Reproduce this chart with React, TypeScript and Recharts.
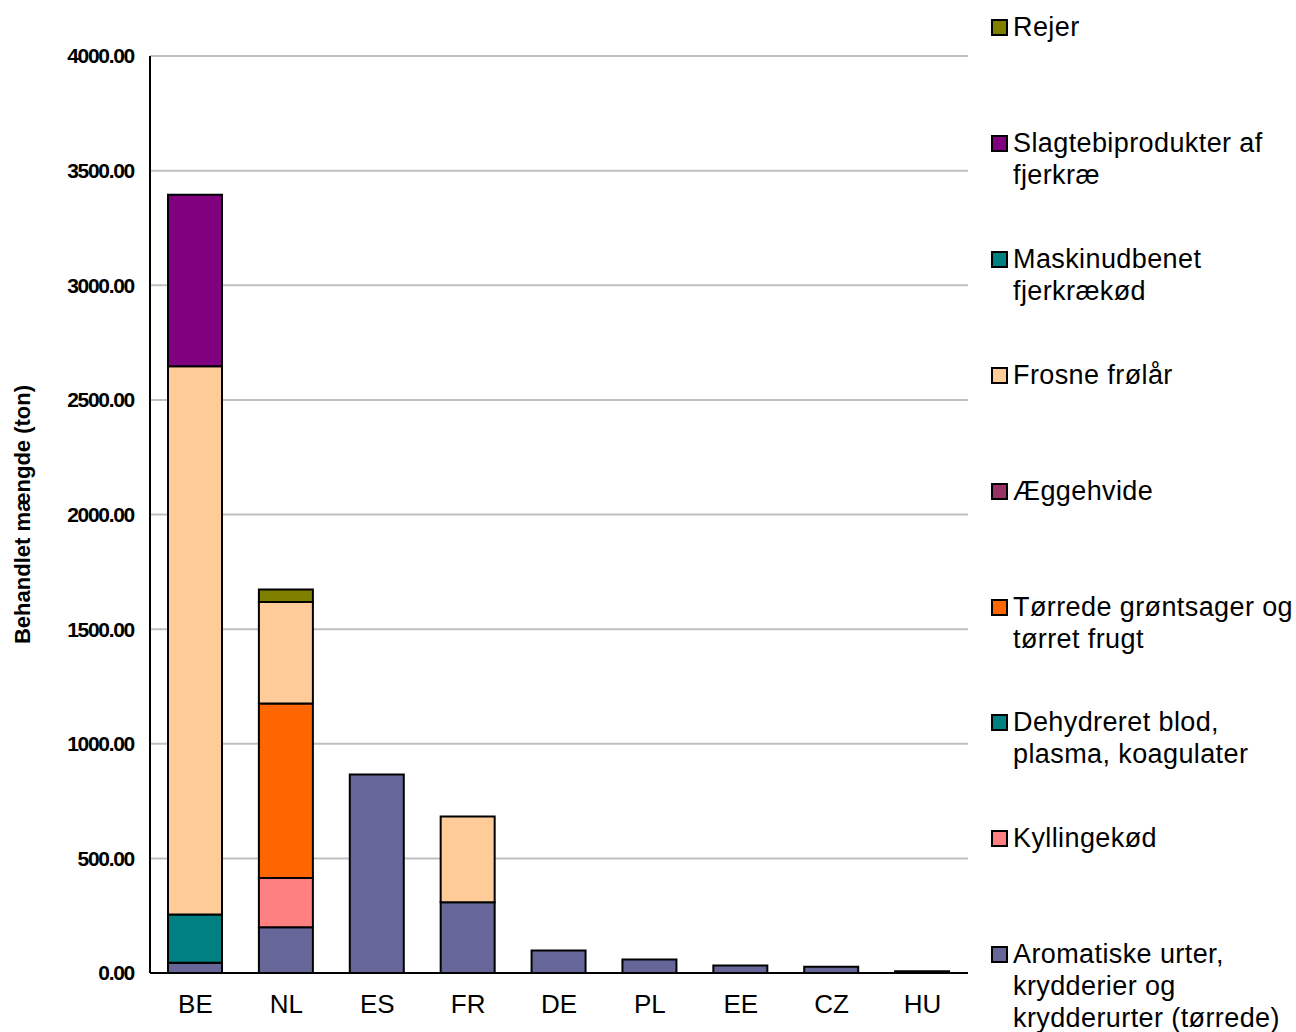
import React from 'react';
import { BarChart, Bar, XAxis, YAxis, CartesianGrid } from 'recharts';

const countries = ['BE', 'NL', 'ES', 'FR', 'DE', 'PL', 'EE', 'CZ', 'HU'];

// stack order, bottom to top
const aromatiske = [45, 200, 866, 309, 98, 59, 33, 27, 8];
const kyllingekod = [0, 214, 0, 0, 0, 0, 0, 0, 0];
const dehydreret = [210, 0, 0, 0, 0, 0, 0, 0, 0];
const torrede = [0, 762, 0, 0, 0, 0, 0, 0, 0];
const aeggehvide = [0, 0, 0, 0, 0, 0, 0, 0, 0];
const frosne = [2392, 442, 0, 374, 0, 0, 0, 0, 0];
const maskinudbenet = [0, 0, 0, 0, 0, 0, 0, 0, 0];
const slagtebi = [748, 0, 0, 0, 0, 0, 0, 0, 0];
const rejer = [0, 55, 0, 0, 0, 0, 0, 0, 0];

const yTicks = [0, 500, 1000, 1500, 2000, 2500, 3000, 3500, 4000];

const series = [
  { key: 'aromatiske', name: 'Aromatiske urter,\nkrydderier og\nkrydderurter (tørrede)', color: '#666699', values: aromatiske },
  { key: 'kyllingekod', name: 'Kyllingekød', color: '#FF8080', values: kyllingekod },
  { key: 'dehydreret', name: 'Dehydreret blod,\nplasma, koagulater', color: '#008080', values: dehydreret },
  { key: 'torrede', name: 'Tørrede grøntsager og\ntørret frugt', color: '#FF6600', values: torrede },
  { key: 'aeggehvide', name: 'Æggehvide', color: '#993366', values: aeggehvide },
  { key: 'frosne', name: 'Frosne frølår', color: '#FFCC99', values: frosne },
  { key: 'maskinudbenet', name: 'Maskinudbenet\nfjerkrækød', color: '#008080', values: maskinudbenet },
  { key: 'slagtebi', name: 'Slagtebiprodukter af\nfjerkræ', color: '#800080', values: slagtebi },
  { key: 'rejer', name: 'Rejer', color: '#808000', values: rejer },
];

const data = countries.map((c, i) => {
  const row: Record<string, string | number> = { country: c };
  series.forEach(s => { row[s.key] = s.values[i]; });
  return row;
});

const font = '"Liberation Sans", Arial, sans-serif';

export default function App() {
  const legendItems = [...series].reverse();
  return (
    <div style={{ position: 'absolute', left: 0, top: 0, width: 1296, height: 1032, background: '#fff', fontFamily: font }}>
      <BarChart
        width={1296}
        height={1032}
        data={data}
        margin={{ top: 56, right: 328, left: 0, bottom: 0 }}
        barSize={54}
      >
        <CartesianGrid vertical={false} stroke="#C0C0C0" strokeWidth={2} />
        <XAxis
          dataKey="country"
          height={59}
          axisLine={{ stroke: '#000', strokeWidth: 2 }}
          tickLine={false}
          tickSize={0}
          tickMargin={22}
          tick={{ fontSize: 26, fill: '#000', fontFamily: font }}
        />
        <YAxis
          width={150}
          domain={[0, 4000]}
          ticks={yTicks}
          interval={0}
          axisLine={{ stroke: '#000', strokeWidth: 2 }}
          tickLine={false}
          tickSize={6}
          tickMargin={10}
          tickFormatter={(v: number) => v.toFixed(2)}
          tick={{ fontSize: 21, fill: '#000', fontWeight: 'bold', letterSpacing: -1.3, fontFamily: font }}
          label={{
            value: 'Behandlet mængde (ton)',
            angle: -90,
            position: 'insideLeft',
            offset: 0,
            dx: 22,
            style: { fontSize: 22, fontWeight: 'bold', fill: '#000', fontFamily: font, textAnchor: 'middle' },
          }}
        />
        {series.map(s => (
          <Bar
            key={s.key}
            dataKey={s.key}
            name={s.name}
            stackId="a"
            fill={s.color}
            stroke="#000"
            strokeWidth={2}
            isAnimationActive={false}
          />
        ))}
      </BarChart>

      {legendItems.map((s, i) => (
        <div
          key={s.key}
          style={{
            position: 'absolute',
            left: 991,
            top: 27 + i * 115.9 - 16,
            display: 'flex',
            alignItems: 'flex-start',
          }}
        >
          <div
            style={{
              width: 13,
              height: 13,
              marginTop: 8,
              background: s.color,
              border: '2px solid #000',
              flex: 'none',
            }}
          />
          <div
            style={{
              marginLeft: 5,
              fontSize: 27,
              lineHeight: '32px',
              letterSpacing: 0.4,
              color: '#000',
              whiteSpace: 'pre',
            }}
          >
            {s.name}
          </div>
        </div>
      ))}
    </div>
  );
}
